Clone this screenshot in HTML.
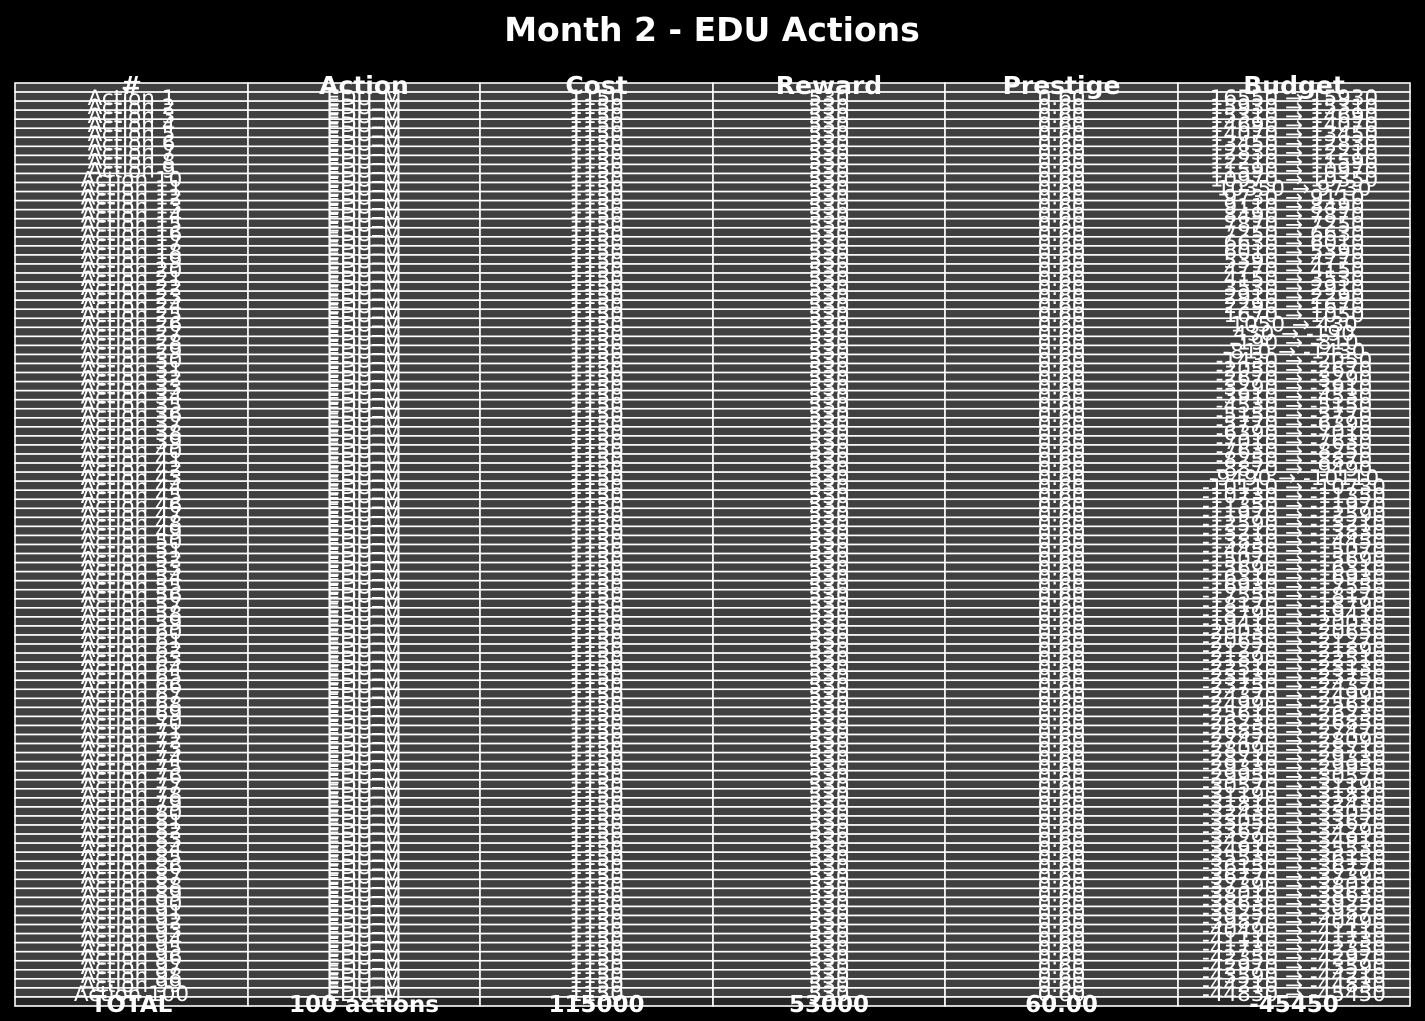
<!DOCTYPE html>
<html><head><meta charset="utf-8"><style>
html,body{margin:0;padding:0;background:#000;}
svg{display:block;}
text{font-family:"DejaVu Sans","Liberation Sans",sans-serif;fill:#fff;}
</style></head><body>
<svg id="chart" width="1425" height="1021" viewBox="0 0 1425 1021">
<rect width="1425" height="1021" fill="#000"/>
<text x="712" y="41" text-anchor="middle" font-size="33" font-weight="bold">Month 2 - EDU Actions</text>
<g id="tbl"></g>
</svg>
<script>
const headers = ["#", "Action", "Cost", "Reward", "Prestige", "Budget"];
const actionCount = 100;
const actionName = "EDU_M";
const costPerAction = 1150;
const rewardPerAction = 530;
const prestigePerAction = 0.60;
const startBudget = 16550;
const totals = ["TOTAL", "100 actions", "115000", "53000", "60.00", "-45450"];

const NS = "http://www.w3.org/2000/svg";
const g = document.getElementById("tbl");
const colX = [15, 248, 480, 713, 945, 1178, 1410];
const top0 = 83, bottom = 1006;
const nRows = actionCount + 2;
const rh = (bottom - top0) / nRows;

function mk(tag, attrs){const e=document.createElementNS(NS,tag);for(const k in attrs)e.setAttribute(k,attrs[k]);return e;}

for (let r = 0; r < nRows; r++) {
  const y = top0 + r * rh;
  for (let c = 0; c < 6; c++) {
    const rect = mk("rect", {x: colX[c], y: y, width: colX[c+1]-colX[c], height: rh,
      fill: r === nRows - 1 ? "#262626" : "#404040", stroke: "#fff", "stroke-width": 1.6});
    
    
    g.appendChild(rect);
  }
}
let budget = startBudget;
for (let r = 0; r < nRows; r++) {
  const y = top0 + r * rh;
  let vals, bold = false, fs = 21.5, dy = 13;
  if (r === 0) { vals = headers; bold = true; fs = 25; dy = 11; }
  else if (r === nRows - 1) { vals = totals; bold = true; fs = 23; dy = 15; }
  else {
    const nb = budget - costPerAction + rewardPerAction;
    vals = ["Action " + r, actionName, String(costPerAction), String(rewardPerAction), prestigePerAction.toFixed(2), budget + " → " + nb];
    budget = nb;
  }
  for (let c = 0; c < 6; c++) {
    const t = mk("text", {x: (colX[c]+colX[c+1])/2, y: y + dy, "text-anchor": "middle", "font-size": fs});
    if (bold) t.setAttribute("font-weight", "bold");
    t.textContent = vals[c];
    
    
    g.appendChild(t);
  }
}
</script>
</body></html>
